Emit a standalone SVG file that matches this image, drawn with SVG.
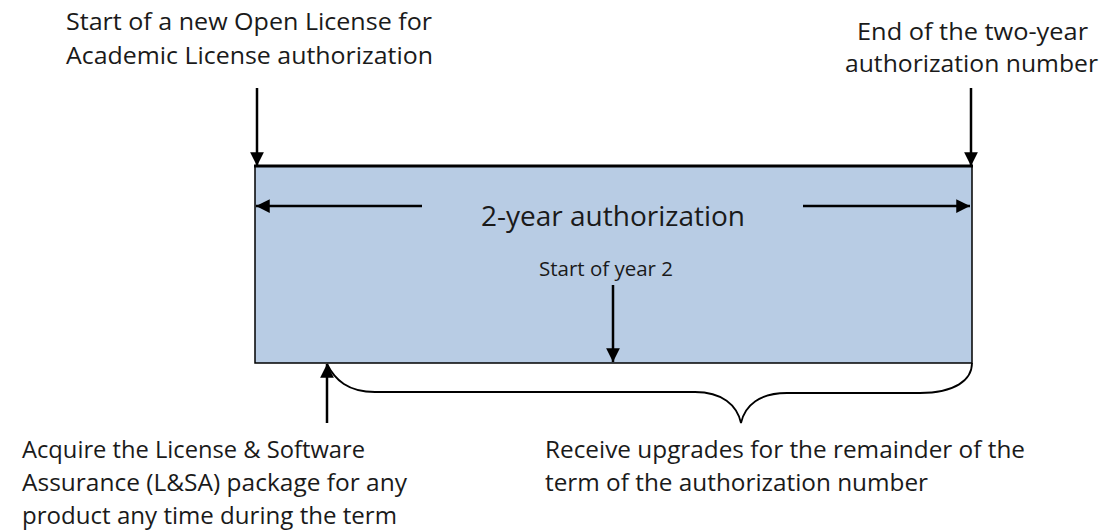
<svg xmlns="http://www.w3.org/2000/svg" width="1104" height="531" viewBox="0 0 1104 531">
<style>
text{font-family:"Open Sans","Noto Sans","Liberation Sans",sans-serif;fill:#1a1a1a}
.lbl{font-size:23.5px}
.ln{stroke:#000;stroke-width:2.5;fill:none}
</style>
<defs>
<marker id="ah" viewBox="0 0 10 10" refX="10" refY="5" markerWidth="5.5" markerHeight="5.5" orient="auto" markerUnits="strokeWidth"><path d="M0,0L10,5L0,10z" fill="#000"/></marker>
</defs>
<g id="bar">
<rect x="255" y="166" width="717" height="197" fill="#b8cce4" stroke="#000" stroke-width="1.5"/>
<line x1="254" y1="166" x2="973" y2="166" stroke="#000" stroke-width="3"/>
<text x="613" y="226" font-size="28" text-anchor="middle">2-year authorization</text>
<text x="606" y="276" font-size="20.5" text-anchor="middle">Start of year 2</text>
</g>
<g id="connectors">
<line class="ln" x1="257" y1="88" x2="257" y2="166" marker-end="url(#ah)"/>
<line class="ln" x1="971" y1="88" x2="971" y2="166" marker-end="url(#ah)"/>
<line class="ln" x1="422" y1="206" x2="256" y2="206" marker-end="url(#ah)"/>
<line class="ln" x1="803" y1="206" x2="970" y2="206" marker-end="url(#ah)"/>
<line class="ln" x1="613" y1="285" x2="613" y2="362" marker-end="url(#ah)"/>
<line class="ln" x1="327" y1="423" x2="327" y2="364" marker-end="url(#ah)"/>
<path d="M327,364 C335,380 348,392 375,392 L695,392 C722,392 737,405 741,423 C745,405 760,393 787,393 L920,393 C955,393 972,380 972,363" fill="none" stroke="#000" stroke-width="1.8"/>
</g>
<g id="label-start">
<text class="lbl" x="66" y="29.5" textLength="366" lengthAdjust="spacingAndGlyphs">Start of a new Open License for</text>
<text class="lbl" x="66" y="63.5" textLength="367" lengthAdjust="spacingAndGlyphs">Academic License authorization</text>
</g>
<g id="label-end">
<text class="lbl" x="857" y="39.5" textLength="231" lengthAdjust="spacingAndGlyphs">End of the two-year</text>
<text class="lbl" x="845" y="72" textLength="253" lengthAdjust="spacingAndGlyphs">authorization number</text>
</g>
<g id="label-acquire">
<text class="lbl" x="22" y="458" textLength="343" lengthAdjust="spacingAndGlyphs">Acquire the License &amp; Software</text>
<text class="lbl" x="22" y="491" textLength="385" lengthAdjust="spacingAndGlyphs">Assurance (L&amp;SA) package for any</text>
<text class="lbl" x="22" y="524" textLength="375" lengthAdjust="spacingAndGlyphs">product any time during the term</text>
</g>
<g id="label-receive">
<text class="lbl" x="545" y="458" textLength="480" lengthAdjust="spacingAndGlyphs">Receive upgrades for the remainder of the</text>
<text class="lbl" x="545" y="491" textLength="383" lengthAdjust="spacingAndGlyphs">term of the authorization number</text>
</g>
</svg>
